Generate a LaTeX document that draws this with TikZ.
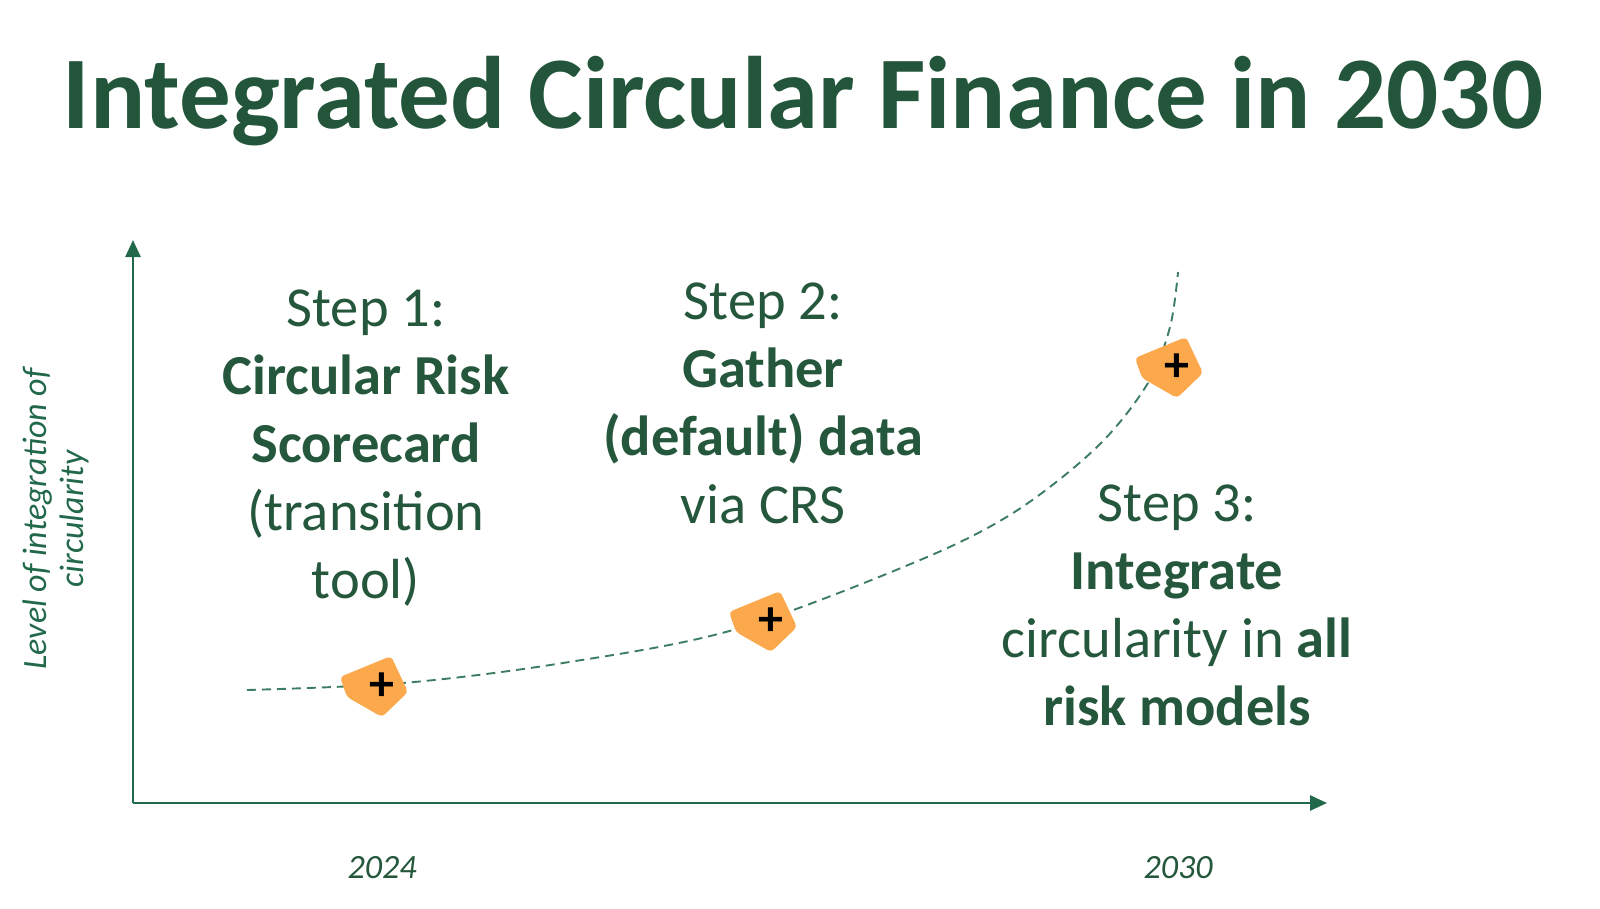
\documentclass[tikz,border=0pt]{standalone}
\usepackage{fontspec}
\setmainfont{Carlito}
\usetikzlibrary{arrows.meta}
\definecolor{titlegreen}{HTML}{22553A}
\definecolor{textgreen}{HTML}{24573B}
\definecolor{axisgreen}{HTML}{22684A}
\definecolor{curvegreen}{HTML}{3D7D62}
\definecolor{markerorange}{HTML}{FBA94C}
\tikzset{
  titletext/.style={font=\fontsize{103}{120}\selectfont\bfseries, text=titlegreen, inner sep=0pt, anchor=base},
  steptext/.style={font=\fontsize{56.5}{68}\selectfont, text=textgreen, align=center, inner sep=0pt, anchor=north},
  axislabel/.style={font=\fontsize{34}{37}\selectfont\itshape, text=axisgreen, align=center, inner sep=0pt},
  yearlabel/.style={font=\fontsize{34}{40}\selectfont\itshape, text=textgreen, inner sep=0pt, anchor=base},
  axisline/.style={draw=axisgreen, line width=2.5pt, -{Triangle[length=17pt,width=15pt]}},
  curveline/.style={draw=curvegreen, line width=1.9pt, dash pattern=on 9pt off 6pt},
  markershape/.style={fill=markerorange, rounded corners=4pt},
  plussign/.style={font=\fontsize{50}{50}\selectfont\bfseries, text=black, inner sep=0pt}
}
\newcommand{\drawmarker}[1]{%
  \fill[markershape, shift={(#1)}] (-42,-10) -- (9,-31) -- (26,5) -- (0,30) -- (-35,10) -- cycle;}
\begin{document}
\begin{tikzpicture}[x=1pt,y=-1pt]
\useasboundingbox (0,0) rectangle (1600,908);
\fill[white] (0,0) rectangle (1600,908);

% title
\node[titletext] (title) at (803,128) {Integrated Circular Finance in 2030};

% axes
\coordinate (origin) at (133,803);
\coordinate (ytip) at (133,240);
\coordinate (xtip) at (1327,803);
\draw[axisline] (origin) -- (ytip);
\draw[axisline] (origin) -- (xtip);

% axis labels
\node[axislabel, rotate=90] (ylab) at (56,519) {Level of integration of\\circularity};
\node[yearlabel] (y2024) at (382,878) {2024};
\node[yearlabel] (y2030) at (1178,878) {2030};

% curve
\draw[curveline] plot[smooth, tension=0.55] coordinates {
 (247,690) (403,683) (563,663) (733,630) (913,563)
 (1013,513) (1097,447) (1148,383) (1170,327) (1178,272)};

% markers
\coordinate (c1) at (382,687);
\coordinate (c2) at (771,622);
\coordinate (c3) at (1177,368);
\drawmarker{c1}
\drawmarker{c2}
\drawmarker{c3}
\node[plussign] (m1) at (c1) {+};
\node[plussign] (m2) at (c2) {+};
\node[plussign] (m3) at (c3) {+};

% step texts
\node[steptext] (step1) at (366,290) {Step 1:\\\textbf{Circular Risk}\\\textbf{Scorecard}\\(transition\\tool)};
\node[steptext] (step2) at (763,283) {Step 2:\\\textbf{Gather}\\\textbf{(default) data}\\via CRS};
\node[steptext] (step3) at (1177,485) {Step 3:\\\textbf{Integrate}\\circularity in \textbf{all}\\\textbf{risk models}};
\end{tikzpicture}
\end{document}
